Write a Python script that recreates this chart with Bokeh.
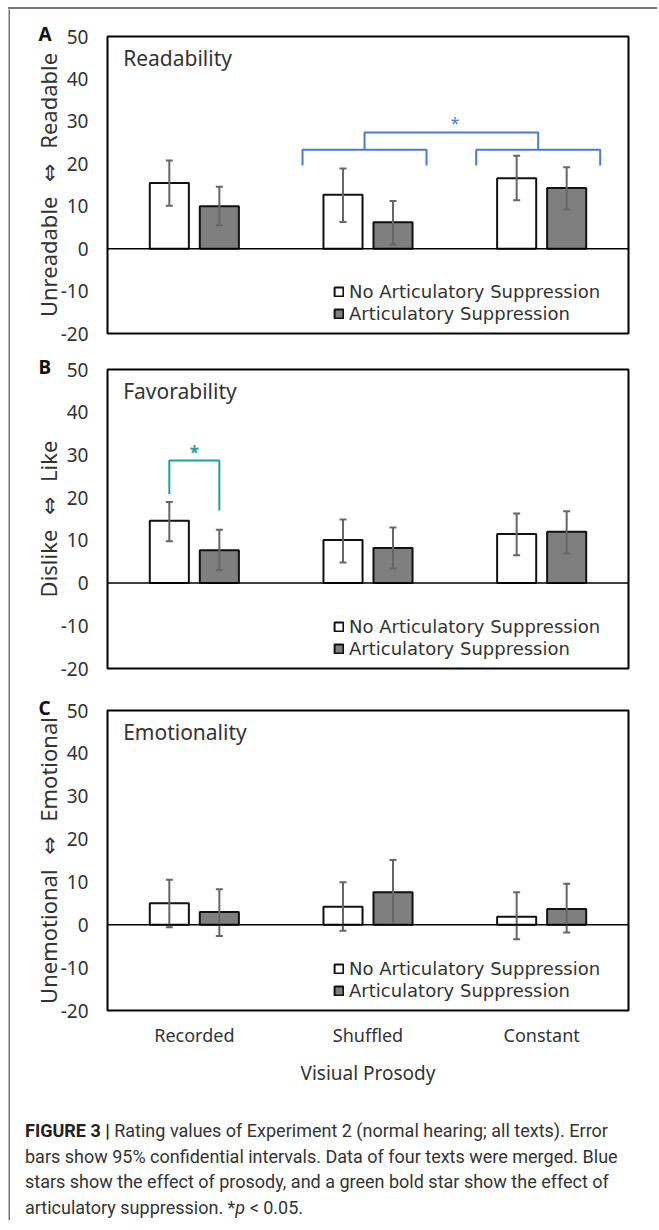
from bokeh.plotting import figure
from bokeh.models import (Range1d, FactorRange, ColumnDataSource, Span, Label, Title,
                          Legend, LegendItem, FixedTicker, Div, Spacer)
from bokeh.transform import dodge
from bokeh.layouts import column, row
from bokeh.embed import file_html
from bokeh.resources import INLINE
from bokeh.core.properties import value

# ---------------- data ----------------
categories = ["Recorded", "Shuffled", "Constant"]
series = ["No Articulatory Suppression", "Articulatory Suppression"]
y_ticks = [-20, -10, 0, 10, 20, 30, 40, 50]
y_tick_labels = ["-20", "-10", "0", "10", "20", "30", "40", "50"]

read_nas = [15.5, 12.7, 16.6]
read_nas_lo = [10.1, 6.3, 11.4]
read_nas_hi = [20.8, 18.9, 21.9]
read_as = [10.0, 6.2, 14.3]
read_as_lo = [5.5, 1.0, 9.2]
read_as_hi = [14.6, 11.2, 19.2]

fav_nas = [14.6, 10.1, 11.5]
fav_nas_lo = [9.8, 4.8, 6.5]
fav_nas_hi = [19.0, 14.9, 16.3]
fav_as = [7.7, 8.2, 12.0]
fav_as_lo = [3.0, 3.4, 6.9]
fav_as_hi = [12.5, 13.0, 16.8]

emo_nas = [5.0, 4.2, 1.9]
emo_nas_lo = [-0.6, -1.4, -3.4]
emo_nas_hi = [10.5, 9.9, 7.6]
emo_as = [3.0, 7.6, 3.7]
emo_as_lo = [-2.6, 0.2, -1.8]
emo_as_hi = [8.3, 15.1, 9.6]

# significance annotations
prosody_pair = ["Shuffled", "Constant"]      # blue star, panel A
prosody_levels = [19.6, 23.3, 27.4, 29.6]     # leg bottom, bracket, top bracket, star
supp_category = "Recorded"                   # green star, panel B
supp_levels = [20.8, 17.0, 28.7, 30.6]        # left leg, right leg, bracket, star

FONT = "Noto Sans"
LEG_FONT = "DejaVu Sans"
LABEL_FONT = "'Noto Sans', 'DejaVu Sans'"
TXT = "#333333"
BAR_W = 0.225
OFF = 0.144
BLUE = "#4a7bd0"
GREEN = "#1f9f9f"
FRAME_GRAY = "#777777"
W = 641


def make_panel(letter, title, ylabel, vals, h, top, bottom, show_x):
    nas, nas_lo, nas_hi, as_, as_lo, as_hi = vals
    p = figure(x_range=FactorRange(factors=categories), y_range=Range1d(-20, 50),
               width=W, height=h, output_backend="svg", toolbar_location=None,
               min_border_left=97, min_border_right=23,
               min_border_top=top, min_border_bottom=bottom)
    p.xgrid.visible = False
    p.ygrid.visible = False
    p.outline_line_color = "black"
    p.outline_line_width = 2
    p.outline_line_alpha = 1
    p.background_fill_color = "white"
    p.border_fill_color = "white"

    src = ColumnDataSource(dict(cat=categories, nas=nas, nas_lo=nas_lo, nas_hi=nas_hi,
                                aS=as_, as_lo=as_lo, as_hi=as_hi))
    p.add_layout(Span(location=0, dimension="width", line_color="black", line_width=1.5))
    x1 = dodge("cat", -OFF, range=p.x_range)
    x2 = dodge("cat", OFF, range=p.x_range)
    r1 = p.vbar(x=x1, top="nas", bottom=0, width=BAR_W, fill_color="white",
                line_color="#111111", line_width=2, source=src)
    r2 = p.vbar(x=x2, top="aS", bottom=0, width=BAR_W, fill_color="#7f7f7f",
                line_color="#111111", line_width=2, source=src)
    for x, lo, hi in ((x1, "nas_lo", "nas_hi"), (x2, "as_lo", "as_hi")):
        p.segment(x0=x, y0=lo, x1=x, y1=hi, line_color="#666666", line_width=2, source=src)
        p.scatter(x=x, y=lo, marker="dash", size=7, line_color="#666666", line_width=2, source=src)
        p.scatter(x=x, y=hi, marker="dash", size=7, line_color="#666666", line_width=2, source=src)

    # y axis
    ax = p.yaxis[0]
    ax.ticker = FixedTicker(ticks=y_ticks)
    ax.major_label_overrides = dict(zip(y_ticks, y_tick_labels))
    ax.major_tick_line_color = None
    ax.minor_tick_line_color = None
    ax.major_tick_out = 0
    ax.major_tick_in = 0
    ax.axis_line_color = None
    ax.major_label_standoff = 19
    ax.major_label_text_font = FONT
    ax.major_label_text_font_size = "19px"
    ax.major_label_text_color = TXT
    ax.axis_label = ylabel
    ax.axis_label_text_font = LABEL_FONT
    ax.axis_label_text_font_size = "22px"
    ax.axis_label_text_font_style = "normal"
    ax.axis_label_text_color = TXT
    ax.axis_label_standoff = -5

    xa = p.xaxis[0]
    if show_x:
        xa.major_tick_line_color = None
        xa.major_tick_out = 0
        xa.major_tick_in = 0
        xa.axis_line_color = None
        xa.major_label_standoff = 12
        xa.major_label_text_font = FONT
        xa.major_label_text_font_size = "18px"
        xa.major_label_text_color = TXT
        xa.axis_label = "Visiual Prosody"
        xa.axis_label_text_font = FONT
        xa.axis_label_text_font_size = "19px"
        xa.axis_label_text_font_style = "normal"
        xa.axis_label_text_color = TXT
        xa.axis_label_standoff = 10
    else:
        xa.visible = False

    # panel letter (as a title so it can sit outside the frame)
    p.add_layout(Title(text=letter, align="left", offset=-69, standoff=-21,
                       text_font=FONT, text_font_style="bold", text_font_size="19px",
                       text_color="#111111"), "above")
    p.add_layout(Label(x=0.09, y=45, text=title, text_font=FONT, text_font_size="21px",
                       text_baseline="middle", text_color=TXT))

    # legend: one row per Legend so that the row pitch matches the reference
    for rend, lab, ypos in ((r1, series[0], 31), (r2, series[1], 9)):
        lg = Legend(items=[LegendItem(label=lab, renderers=[rend])],
                    location=(226, ypos), orientation="vertical", glyph_width=11, glyph_height=11,
                    label_standoff=5, spacing=0, padding=0, margin=0, label_height=11,
                    border_line_alpha=0, background_fill_alpha=0,
                    label_text_font=LEG_FONT, label_text_font_size="18px", label_text_color=TXT)
        p.add_layout(lg)
    return p


ARROW = "\u2002\u2009\u21d4\u2002\u2009"
pA = make_panel("A", "Readability", "Unreadable" + ARROW + "Readable",
                (read_nas, read_nas_lo, read_nas_hi, read_as, read_as_lo, read_as_hi),
                336, 27, 12, False)
pB = make_panel("B", "Favorability", "Dislike" + ARROW + "Like",
                (fav_nas, fav_nas_lo, fav_nas_hi, fav_as, fav_as_lo, fav_as_hi),
                339, 24, 16, False)
pC = make_panel("C", "Emotionality", "Unemotional" + ARROW + "Emotional",
                (emo_nas, emo_nas_lo, emo_nas_hi, emo_as, emo_as_lo, emo_as_hi),
                404, 26, 78, True)

# blue brackets (effect of prosody) in panel A
k1 = categories.index(prosody_pair[0]) + 0.5
k2 = categories.index(prosody_pair[1]) + 0.5
c1 = k1 - 0.02
c2 = k2 - 0.02
hw = 0.357
lo, mid, hi, sy = prosody_levels
pA.multi_line(xs=[[c1 - hw, c1 - hw, c1 + hw, c1 + hw],
                  [c2 - hw, c2 - hw, c2 + hw, c2 + hw],
                  [c1, c1, c2, c2]],
              ys=[[lo, mid, mid, lo], [lo, mid, mid, lo], [mid, hi, hi, mid]],
              line_color=BLUE, line_width=2)
pA.text(x=[(k1 + k2) / 2], y=[sy], text=["*"], text_align="center", text_baseline="middle",
        text_color=BLUE, text_font=value(FONT), text_font_size="16px")

# green bracket (effect of articulatory suppression) in panel B
cc = categories.index(supp_category) + 0.5
l_leg, r_leg, brk, gsy = supp_levels
pB.line(x=[cc - OFF, cc - OFF, cc + OFF, cc + OFF], y=[l_leg, brk, brk, r_leg],
        line_color=GREEN, line_width=2)
pB.text(x=[cc], y=[gsy], text=["*"], text_align="center", text_baseline="middle",
        text_color=GREEN, text_font=value(FONT), text_font_style="bold", text_font_size="17px")

# caption (HTML text)
caption_html = (
    '<div style="font-family: Roboto, sans-serif; font-size: 18px; line-height: 25.5px; '
    'color: #333333; padding: 25px 0 0 10px; margin: 0; white-space: nowrap;">'
    '<b style="color:#222222;">FIGURE 3 |</b> Rating values of Experiment 2 '
    '(normal hearing; all texts). Error<br>'
    'bars show 95% confidential intervals. Data of four texts were merged. Blue<br>'
    'stars show the effect of prosody, and a green bold star show the effect of<br>'
    'articulatory suppression. *<i>p</i> &lt; 0.05.</div>'
)
cap = Div(text=caption_html, width=W, height=132)


def line_fig(w, h):
    f = figure(width=w, height=h, output_backend="svg", toolbar_location=None, min_border=0,
               x_range=Range1d(0, 1), y_range=Range1d(0, 1))
    f.axis.visible = False
    f.grid.visible = False
    f.outline_line_color = None
    f.background_fill_color = FRAME_GRAY
    f.border_fill_color = FRAME_GRAY
    return f


top_bar = Spacer(width=649, height=2, styles={"background-color": FRAME_GRAY})

content = column(pA, pB, pC, cap, spacing=0)
top_line = row(Spacer(width=8, height=2), top_bar, spacing=0)
body = row(Spacer(width=8, height=1211), line_fig(2, 1211), content, spacing=0)
layout = column(Spacer(width=8, height=7), top_line, body, spacing=0)

open("out.html", "w").write(file_html(layout, INLINE))
